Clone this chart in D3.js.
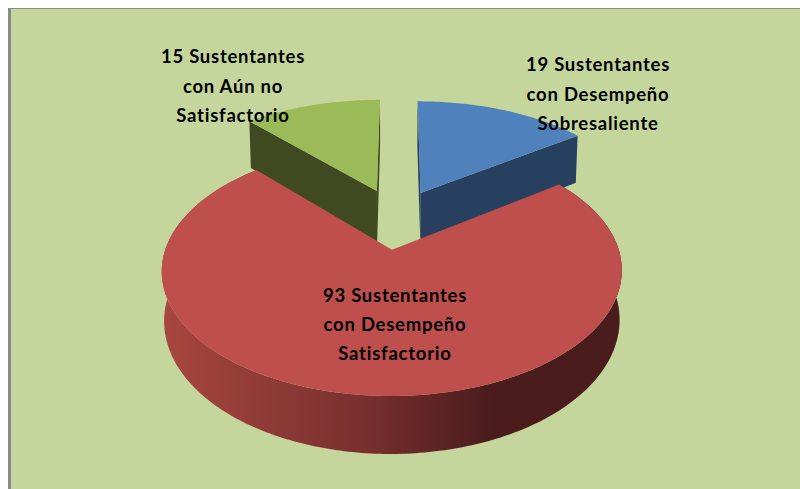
<!DOCTYPE html>
<html>
<head>
<meta charset="utf-8">
<script src="https://d3js.org/d3.v7.min.js"></script>
<style>
  html, body { margin: 0; padding: 0; background: #fff; }
  svg { display: block; }
  .label {
    font-family: Lato, "Open Sans", sans-serif;
    font-size: 18.5px;
    font-weight: 700;
    letter-spacing: 0.75px;
    text-anchor: middle;
    fill: #000;
  }
</style>
</head>
<body>
<script>
  // data
  const categories = ["Desempeño Sobresaliente", "Desempeño Satisfactorio", "Aún no Satisfactorio"];
  const values = [19, 93, 15];
  const labelLines = [
    ["19 Sustentantes", "con Desempeño", "Sobresaliente"],
    ["93 Sustentantes", "con Desempeño", "Satisfactorio"],
    ["15 Sustentantes", "con Aún no", "Satisfactorio"]
  ];

  // style and layout
  const topColors = ["#4f81bd", "#be4f4d", "#9bbb59"];
  const sideColors = ["#28405f", "url(#redSide)", "#3f4a23"];
  const explodeX = [0.10, -0.03, -0.103];
  const explodeY = [0.187, -0.305, 0.206];
  const radius = [1, 0.97, 1];
  const depth = [53, 45.8, 54]; // back slices run on under the red one
  const labelPos = [[598, 65, 29.5], [395, 296, 29], [233, 57, 29.5]];

  const width = 800, height = 489;
  const tilt = 0.165, shrink = 0.99;

  const svg = d3.select("body").append("svg")
    .attr("width", width)
    .attr("height", height);

  const grad = svg.append("defs").append("linearGradient")
    .attr("id", "redSide")
    .attr("gradientUnits", "userSpaceOnUse")
    .attr("x1", 160).attr("x2", 623).attr("y1", 0).attr("y2", 0);
  grad.append("stop").attr("offset", "0").attr("stop-color", "#a8473f");
  grad.append("stop").attr("offset", "0.43").attr("stop-color", "#7a302f");
  grad.append("stop").attr("offset", "0.72").attr("stop-color", "#4a1c1c");
  grad.append("stop").attr("offset", "1").attr("stop-color", "#4a1d1c");

  // chart area with the grey edge on top and left
  svg.append("rect").attr("x", 8).attr("y", 8).attr("width", width - 8).attr("height", height - 8).attr("fill", "#8a8a8a");
  svg.append("rect").attr("x", 11).attr("y", 9).attr("width", width - 11).attr("height", height - 9).attr("fill", "#c4d69b");

  // plane of the pie -> screen, with some perspective
  const sx = d3.scaleLinear().domain([-1, 1]).range([399 - 222, 399 + 222]);
  const sy = d3.scaleLinear().domain([-1, 1]).range([213.5 + 113, 213.5 - 113]);

  const project = (X, Y, down) => {
    const w = 1 + tilt * Y;
    const px = sx(X / w), py = sy(Y / w);
    if (down === undefined) return [px, py];
    return [sx(0) + (px - sx(0)) * shrink, py + down / w];
  };

  const slices = d3.pie().sort(null).startAngle(0).endAngle(2 * Math.PI)(values);
  const line = d3.line();

  // plane coordinates of a slice outline: apex then the rim
  slices.forEach((d, i) => {
    const ex = explodeX[i], ey = explodeY[i];
    const n = Math.ceil((d.endAngle - d.startAngle) * 60);
    d.apex = [ex, ey];
    d.rim = d3.range(n + 1).map(k => {
      const a = d.startAngle + (d.endAngle - d.startAngle) * k / n;
      return [ex + radius[i] * Math.sin(a), ey + radius[i] * Math.cos(a)];
    });
    d.index = i;
  });

  const drawSide = d => {
    const g = svg.append("g");
    const outline = d.index === 1
      ? d.rim
      : [d.apex, d.rim[d.rim.length - 1]];
    const top = outline.map(p => project(p[0], p[1]));
    const low = outline.map(p => project(p[0], p[1], depth[d.index])).reverse();
    g.append("path")
      .attr("d", line(top.concat(low)) + "Z")
      .attr("fill", sideColors[d.index]);
    if (d.index !== 1) {
      // the other cut face, seen almost edge on
      const other = [d.apex, d.rim[0]];
      const t2 = other.map(p => project(p[0], p[1]));
      const l2 = other.map(p => project(p[0], p[1], depth[d.index])).reverse();
      g.insert("path", ":first-child")
        .attr("d", line(t2.concat(l2)) + "Z")
        .attr("fill", sideColors[d.index]);
    }
  };

  const drawTop = d => {
    const pts = [d.apex].concat(d.rim).map(p => project(p[0], p[1]));
    svg.append("path")
      .attr("d", line(pts) + "Z")
      .attr("fill", topColors[d.index]);
  };

  // back slices first, the big red one goes over them
  [slices[0], slices[2]].forEach(d => { drawSide(d); drawTop(d); });
  drawSide(slices[1]);
  drawTop(slices[1]);

  // labels
  categories.forEach((c, i) => {
    const t = svg.append("text").attr("class", "label");
    labelLines[i].forEach((s, j) => {
      t.append("tspan")
        .attr("x", labelPos[i][0])
        .attr("y", labelPos[i][1] + j * labelPos[i][2] + 6)
        .text(s);
    });
  });
</script>
</body>
</html>
